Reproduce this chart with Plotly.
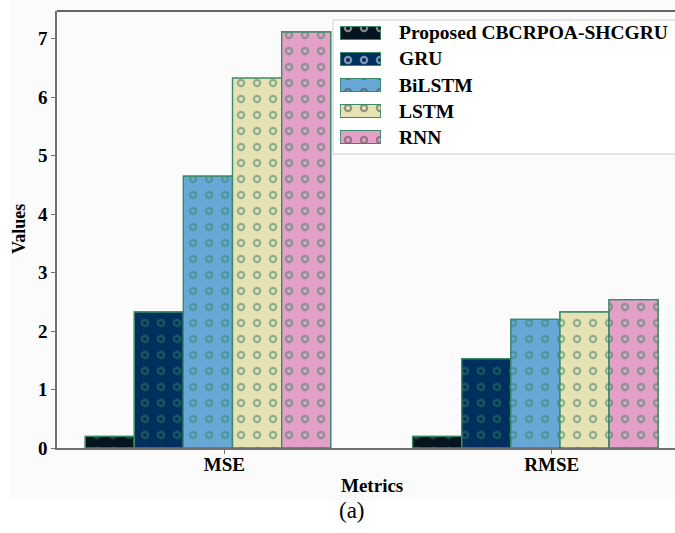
import plotly.graph_objects as go

# ---- data ----
metrics = ["MSE", "RMSE"]
models = ["Proposed CBCRPOA-SHCGRU", "GRU", "BiLSTM", "LSTM", "RNN"]
mse_values = [0.20, 2.33, 4.65, 6.33, 7.12]
rmse_values = [0.20, 1.53, 2.20, 2.33, 2.54]
y_ticks = [0, 1, 2, 3, 4, 5, 6, 7]

# ---- styling ----
colors = ["#04151f", "#01305f", "#68a8d6", "#e6e2b4", "#e3a1c7"]
ring = "#2f8160"
edge = "#3a8a69"
font_family = "Liberation Serif, Times New Roman, serif"
W, H = 675, 533
ML, MR, MT, MB = 57, 0, 11, 85
bar_w = 0.15
first_offset = -0.425
pat_size = 16
dot_solid = 0.22    # outer radius of each ring
hole_solid = 0.052  # inner radius of each ring

fig = go.Figure()

cat_pos = list(range(len(metrics)))
for i, name in enumerate(models):
    vals = [mse_values[i], rmse_values[i]]
    off = first_offset + i * bar_w
    # filled bar with round dots
    fig.add_trace(go.Bar(
        x=cat_pos, y=vals, width=bar_w, offset=off, name=name,
        marker=dict(color=colors[i], line=dict(color=edge, width=1.2),
                    pattern=dict(shape=".", fillmode="overlay", fgcolor=ring,
                                 bgcolor=colors[i], size=pat_size, solidity=dot_solid)),
        showlegend=False, hoverinfo="skip"))
    # punch the centre of each dot to make rings
    fig.add_trace(go.Bar(
        x=cat_pos, y=vals, width=bar_w, offset=off, name=name,
        marker=dict(color=colors[i], line=dict(color=edge, width=1.2),
                    pattern=dict(shape=".", fillmode="replace", fgcolor=colors[i],
                                 bgcolor="rgba(0,0,0,0)", size=pat_size, solidity=hole_solid)),
        showlegend=False, hoverinfo="skip"))

# ---- legend swatches drawn as bars on a small inset axis ----
rows = list(range(len(models)))
ones = [1] * len(models)
fig.add_trace(go.Bar(
    x=ones, y=rows, orientation="h", width=0.5, xaxis="x2", yaxis="y2",
    marker=dict(color=colors, line=dict(color=edge, width=1.2),
                pattern=dict(shape=".", fillmode="overlay", fgcolor=ring,
                             bgcolor=colors, size=pat_size, solidity=dot_solid)),
    showlegend=False, hoverinfo="skip"))
fig.add_trace(go.Bar(
    x=ones, y=rows, orientation="h", width=0.5, xaxis="x2", yaxis="y2",
    marker=dict(color=colors, line=dict(color=edge, width=1.2),
                pattern=dict(shape=".", fillmode="replace", fgcolor=colors,
                             bgcolor="rgba(0,0,0,0)", size=pat_size, solidity=hole_solid)),
    showlegend=False, hoverinfo="skip"))

pw = W - ML - MR
ph = H - MT - MB


def px_x(px):
    return (px - ML) / pw


def px_y(py):
    return (H - MB - py) / ph


row_top, row_h = 20, 26
leg_dom_y = [px_y(row_top + row_h * len(models)), px_y(row_top)]

shapes = [
    # faint figure background
    dict(type="rect", xref="paper", yref="paper", x0=px_x(10), x1=px_x(W + 5),
         y0=px_y(500), y1=px_y(-5), fillcolor="#fbfbfb", line=dict(width=0), layer="below"),
    # legend frame
    dict(type="rect", xref="paper", yref="paper", x0=px_x(333), x1=px_x(W + 20),
         y0=px_y(154), y1=px_y(20), fillcolor="rgba(255,255,255,0.9)",
         line=dict(color="#d0d0d0", width=1), layer="below"),
    # top spine
    dict(type="line", xref="paper", yref="paper", x0=0, x1=1, y0=1, y1=1,
         line=dict(color="#333333", width=1.5)),
]

annotations = []
for i, name in enumerate(models):
    annotations.append(dict(
        text=name, xref="paper", yref="paper", x=px_x(397),
        y=px_y(row_top + row_h * i + 13), xanchor="left", yanchor="middle",
        showarrow=False, font=dict(family=font_family, size=19.5, color="#000", weight="bold")))
annotations += [
    dict(text="Metrics", xref="paper", yref="paper", x=px_x(372), y=px_y(485),
         xanchor="center", yanchor="middle", showarrow=False,
         font=dict(family=font_family, size=19, color="#000", weight="bold")),
    dict(text="Values", xref="paper", yref="paper", x=px_x(19), y=px_y(229),
         xanchor="center", yanchor="middle", textangle=-90, showarrow=False,
         font=dict(family=font_family, size=18, color="#000", weight="bold")),
    dict(text="(a)", xref="paper", yref="paper", x=px_x(352), y=px_y(510),
         xanchor="center", yanchor="middle", showarrow=False,
         font=dict(family=font_family, size=23, color="#000")),
]

fig.update_layout(
    width=W, height=H,
    margin=dict(l=ML, r=MR, t=MT, b=MB),
    paper_bgcolor="#ffffff", plot_bgcolor="rgba(0,0,0,0)",
    barmode="overlay", showlegend=False,
    xaxis=dict(range=[-0.511, 1.3766], tickvals=cat_pos, ticktext=metrics,
               showline=True, linecolor="#707070", linewidth=1.5,
               ticks="outside", ticklen=4, tickcolor="#707070", showgrid=False,
               zeroline=False, ticklabelstandoff=-6,
               tickfont=dict(family=font_family, size=19, color="#000", weight="bold")),
    yaxis=dict(range=[0, 7.476], tickvals=y_ticks, showline=True, linecolor="#707070",
               linewidth=1.5, ticks="outside", ticklen=4, tickcolor="#707070",
               showgrid=False, zeroline=False,
               tickfont=dict(family=font_family, size=19, color="#000", weight="bold")),
    xaxis2=dict(domain=[px_x(340), px_x(381)], range=[0, 1], anchor="y2", visible=False),
    yaxis2=dict(domain=leg_dom_y, range=[len(models) - 0.5, -0.5], anchor="x2", visible=False),
    shapes=shapes, annotations=annotations,
)

fig.write_html("out.html")
